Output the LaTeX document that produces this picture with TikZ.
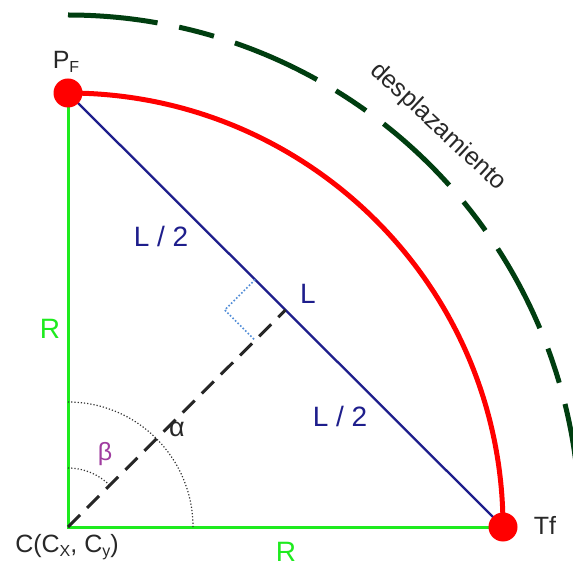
\documentclass[tikz,border=0pt]{standalone}
\usepackage{fontspec}
\setmainfont{Liberation Sans}
\definecolor{lime}{RGB}{30,235,30}
\definecolor{navyL}{RGB}{30,30,140}
\definecolor{dkgreen}{RGB}{0,62,16}
\definecolor{txtgray}{RGB}{40,40,40}
\definecolor{purp}{RGB}{160,60,160}
\definecolor{ltblue}{RGB}{80,140,215}
\newcommand{\lowsub}[1]{\raisebox{-0.35ex}{\fontsize{16}{18}\selectfont #1}}
\begin{document}
\begin{tikzpicture}[x=1pt,y=1pt,
  lbl/.style={inner sep=0pt, font=\fontsize{25}{30}\selectfont, text=txtgray},
  bluelbl/.style={inner sep=0pt, font=\fontsize{28}{32}\selectfont, text=navyL},
  greenlbl/.style={inner sep=0pt, font=\fontsize{28}{32}\selectfont, text=lime},
  dot/.style={circle, fill=red, draw=none, minimum size=29pt, inner sep=0pt},
  radius line/.style={draw=lime, line width=3pt},
  chord/.style={draw=navyL, line width=2.3pt},
  redarc/.style={draw=red, line width=5pt},
  disparc/.style={draw=dkgreen, line width=5pt, dash pattern=on 90pt off 22pt on 36pt off 22pt},
  bisector/.style={draw=black!85, line width=3pt, dash pattern=on 17pt off 10pt},
  anglearc/.style={draw=black!80, line width=1.2pt, dotted},
  rightmark/.style={draw=ltblue, line width=1.6pt, dotted}]
\useasboundingbox (0,0) rectangle (573,568);
\clip (0,0) rectangle (573,568);
\fill[white] (0,0) rectangle (573,568);

\coordinate (C) at (68,41);
\coordinate (PF) at (68,475);
\coordinate (Tf) at (503,41);
\coordinate (M) at (285.5,258);
\coordinate (A1) at (255.1,288.4);
\coordinate (A0) at (224.7,258);
\coordinate (A2) at (255.1,227.6);
\coordinate (D0) at (68,553);

% displacement arc
\draw[disparc] (D0) arc[start angle=90, end angle=-10, radius=512];

% radii
\draw[radius line] (PF) -- (C) -- (Tf);

% trajectory
\draw[redarc] (PF) arc[start angle=90, end angle=0, x radius=435, y radius=434];

% chord
\draw[chord] (PF) -- (Tf);

% bisector
\draw[bisector] (C) -- (M);

% angle arcs
\draw[anglearc] (68,166) arc[start angle=90, end angle=0, radius=125];
\draw[anglearc] (68,100) arc[start angle=90, end angle=44, radius=59];

% right angle mark
\draw[rightmark] (A1) -- (A0) -- (A2);

% points
\node[dot] (PFdot) at (PF) {};
\node[dot] (Tfdot) at (Tf) {};

% labels
\node[lbl] (lPF) at (66,506) {P\lowsub{F}};
\node[lbl] (lTf) at (545,43) {Tf};
\node[lbl] (lC) at (67,21) {C(C\lowsub{X}, C\lowsub{y})};
\node[greenlbl] (lR1) at (50,239) {R};
\node[greenlbl] (lR2) at (286,16) {R};
\node[bluelbl] (lL2a) at (161,332) {L / 2};
\node[bluelbl] (lL) at (308,274) {L};
\node[bluelbl] (lL2b) at (340,152) {L / 2};
\node[lbl, text=purp] (lbeta) at (105,114) {β};
\node[lbl, font=\fontsize{27}{30}\selectfont] (lalpha) at (177,139) {α};
\node[lbl, rotate=-43] (ldesp) at (438,441) {desplazamiento};
\end{tikzpicture}
\end{document}
